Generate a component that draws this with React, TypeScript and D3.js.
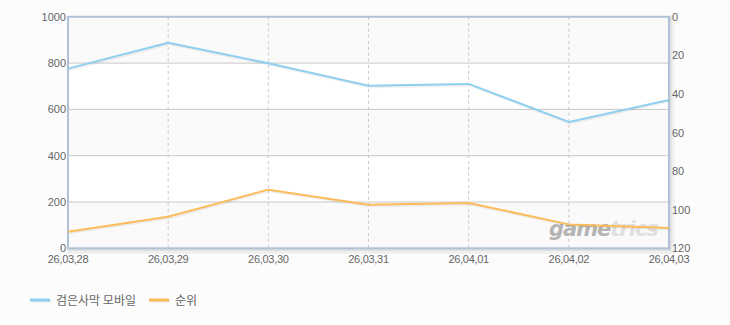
import React from "react";
import * as d3 from "d3";

const dates = ["26,03,28", "26,03,29", "26,03,30", "26,03,31", "26,04,01", "26,04,02", "26,04,03"];
const seriesNames = ["검은사막 모바일", "순위"];
const usersValues = [776, 888, 799, 702, 710, 546, 641];
const rankValues = [111.4, 103.6, 89.6, 97.4, 96.5, 107.6, 109.5];
const leftTicks = [0, 200, 400, 600, 800, 1000];
const rightTicks = [0, 20, 40, 60, 80, 100, 120];
const colors = ["#8fd0f0", "#fbbc5a"];

const W = 730, H = 325;
const M = { left: 68, right: 669, top: 16.8, bottom: 248.3 };

export default function App() {
  const x = d3.scalePoint<string>().domain(dates).range([M.left, M.right]);
  const yL = d3.scaleLinear().domain([0, 1000]).range([M.bottom, M.top]);
  const yR = d3.scaleLinear().domain([0, 120]).range([M.top, M.bottom]);
  const lineL = d3.line<number>().x((_, i) => x(dates[i])!).y((d) => yL(d));
  const lineR = d3.line<number>().x((_, i) => x(dates[i])!).y((d) => yR(d));
  const font = "'Liberation Sans', Arial, sans-serif";
  const bands = [0, 1, 2, 3, 4];
  return (
    <svg width={W} height={H} style={{ position: "absolute", left: 0, top: 0 }} xmlns="http://www.w3.org/2000/svg">
      <rect x={0} y={0} width={W} height={H} fill="#fcfcfc" />
      {/* frame shadow */}
      <rect x={M.left + 2} y={M.top + 2} width={M.right - M.left + 1} height={M.bottom - M.top + 1} fill="none" stroke="#000" strokeOpacity={0.05} strokeWidth={5} />
      <rect x={M.left + 1} y={M.top + 1} width={M.right - M.left} height={M.bottom - M.top} fill="none" stroke="#000" strokeOpacity={0.07} strokeWidth={3} />
      {/* bands */}
      {bands.map((b) => (
        <rect key={b} x={M.left} y={yL((b + 1) * 200)} width={M.right - M.left} height={yL(b * 200) - yL((b + 1) * 200)} fill={b % 2 === 0 ? "#fafafa" : "#ffffff"} />
      ))}
      {/* horizontal grid */}
      {leftTicks.slice(1, -1).map((t) => (
        <line key={t} x1={M.left} x2={M.right} y1={yL(t)} y2={yL(t)} stroke="#c8c8c8" strokeWidth={1} />
      ))}
      {/* vertical dashed grid */}
      {dates.slice(1, -1).map((d) => (
        <line key={d} x1={x(d)} x2={x(d)} y1={M.top} y2={M.bottom} stroke="#c8c8c8" strokeWidth={1} strokeDasharray="3,3" />
      ))}
      {/* watermark */}
      <text x={549} y={236} fontFamily="'DejaVu Sans', sans-serif" fontWeight="bold" fontStyle="italic" fontSize={21} letterSpacing={-1}>
        <tspan fill="#b4b4b4">game</tspan>
        <tspan fill="#e0e0e0">trics</tspan>
      </text>
      {/* frame */}
      <rect x={M.left} y={M.top} width={M.right - M.left} height={M.bottom - M.top} fill="none" stroke="#b2c2d6" strokeWidth={2} />
      {/* lines with shadow */}
      <path d={lineL(usersValues)!} fill="none" stroke="#000" strokeOpacity={0.06} strokeWidth={3} transform="translate(1,1)" />
      <path d={lineR(rankValues)!} fill="none" stroke="#000" strokeOpacity={0.06} strokeWidth={3} transform="translate(1,1)" />
      <path d={lineL(usersValues)!} fill="none" stroke={colors[0]} strokeWidth={2} strokeLinejoin="round" />
      <path d={lineR(rankValues)!} fill="none" stroke={colors[1]} strokeWidth={2} strokeLinejoin="round" />
      {/* left ticks */}
      {leftTicks.map((t) => (
        <text key={t} x={66} y={yL(t) + 4} textAnchor="end" fontFamily={font} fontSize={11} fill="#666">{t}</text>
      ))}
      {/* right ticks */}
      {rightTicks.map((t) => (
        <text key={t} x={672} y={yR(t) + 4} textAnchor="start" fontFamily={font} fontSize={11} fill="#666">{t}</text>
      ))}
      {/* x labels */}
      {dates.map((d) => (
        <text key={d} x={x(d)} y={263} textAnchor="middle" fontFamily={font} fontSize={11} fill="#666" letterSpacing={-0.3}>{d}</text>
      ))}
      {/* legend */}
      {seriesNames.map((n, i) => {
        const lx = i === 0 ? 30 : 149;
        return (
          <g key={n}>
            <line x1={lx + 1} x2={lx + 21} y1={301} y2={301} stroke="#000" strokeOpacity={0.08} strokeWidth={3} />
            <line x1={lx} x2={lx + 20} y1={300} y2={300} stroke={colors[i]} strokeWidth={3} />
            <text x={lx + 26} y={304.5} fontFamily="'Noto Sans CJK KR', sans-serif" fontSize={12} fill="#666">{n}</text>
          </g>
        );
      })}
    </svg>
  );
}
